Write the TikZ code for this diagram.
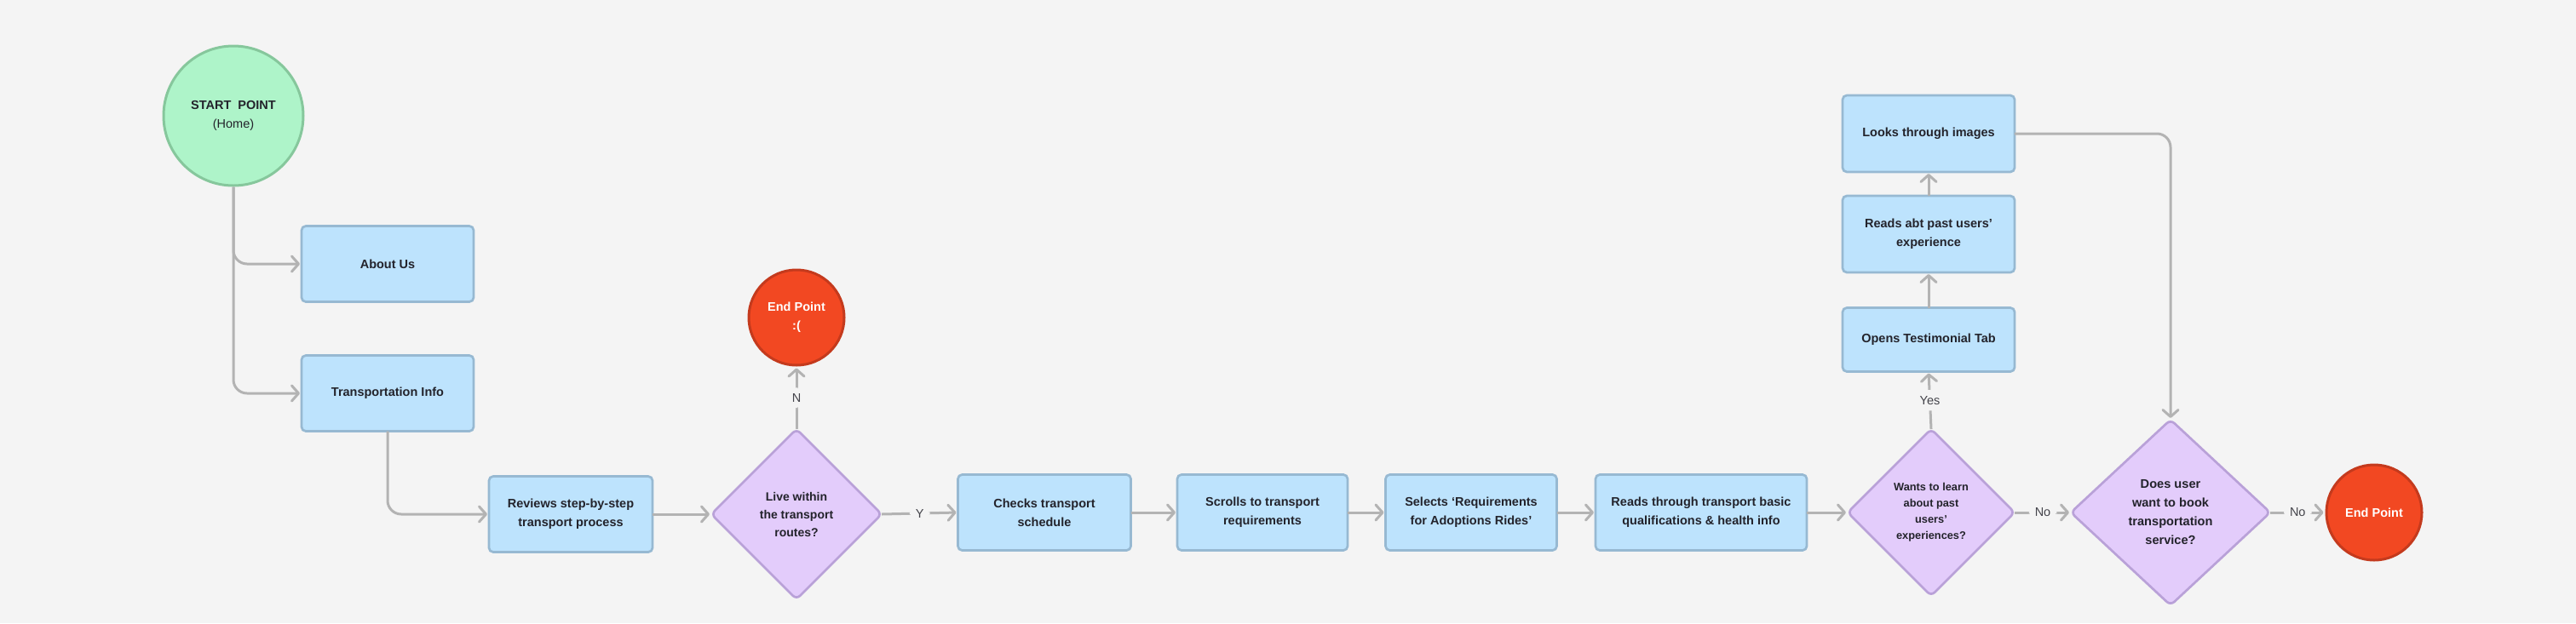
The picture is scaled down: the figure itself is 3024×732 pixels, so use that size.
\documentclass[tikz,border=0pt]{standalone}
\usepackage{fontspec}
\setmainfont{Liberation Sans}
\usetikzlibrary{arrows.meta,shapes.geometric}

\definecolor{bggray}{HTML}{F4F4F4}
\definecolor{boxfill}{HTML}{BDE3FD}
\definecolor{boxdraw}{HTML}{97B9D2}
\definecolor{decfill}{HTML}{E3CCFB}
\definecolor{decdraw}{HTML}{B9A1D8}
\definecolor{startfill}{HTML}{AEF4C9}
\definecolor{startdraw}{HTML}{86C79C}
\definecolor{endfill}{HTML}{F24822}
\definecolor{enddraw}{HTML}{C43A1D}
\definecolor{linegray}{HTML}{B3B3B3}
\definecolor{inkdark}{HTML}{23232B}

\newcommand{\boxfont}{\fontsize{14.5}{22}\selectfont\bfseries}
\newcommand{\lblfont}{\fontsize{14.5}{18}\selectfont}

\begin{document}
\begin{tikzpicture}[x=1pt,y=-1pt,
  stepbox/.style={draw=boxdraw,line width=2.7pt,rounded corners=5pt,fill=boxfill,minimum width=202pt,minimum height=89pt,align=center,font=\boxfont,text=inkdark,inner sep=2pt,outer sep=0pt},
  decision/.style={diamond,draw=decdraw,line width=2.7pt,rounded corners=6pt,fill=decfill,minimum width=200pt,minimum height=200pt,align=center,font=\boxfont,text=inkdark,inner sep=0pt,outer sep=0pt},
  startpt/.style={circle,draw=startdraw,line width=3pt,fill=startfill,minimum size=164pt,align=center,font=\fontsize{14.5}{22}\selectfont,text=inkdark,inner sep=0pt},
  endpt/.style={circle,draw=enddraw,line width=3pt,fill=endfill,minimum size=112pt,align=center,font=\boxfont,text=white,inner sep=0pt},
  flow/.style={draw=linegray,line width=3pt,-{Straight Barb[length=8pt,width=18pt,round]},shorten >=2pt,rounded corners=16pt},
  lbl/.style={fill=bggray,font=\lblfont,text=inkdark!85,inner xsep=7pt,inner ysep=7pt}]
\path[fill=bggray,use as bounding box] (0,0) rectangle (3024,732);

% entry and side pages
\node[startpt] (start) at (274,136) {\textbf{START\ \ POINT}\\(Home)};
\node[stepbox] (about) at (455,310) {About Us};
\node[stepbox] (trans) at (455,462) {Transportation Info};

% main row
\node[stepbox,minimum width=192pt] (reviews) at (670,604) {Reviews step-by-step\\transport process};
\node[decision,font=\fontsize{14}{21}\selectfont\bfseries] (live) at (935,604) {Live within\\the transport\\routes?};
\node[endpt] (endsad) at (935,373) {End Point\\:(};
\node[stepbox,minimum width=203pt] (checks) at (1226,602) {Checks transport\\schedule};
\node[stepbox,minimum width=200pt] (scrolls) at (1482,602) {Scrolls to transport\\requirements};
\node[stepbox,minimum width=201pt] (selects) at (1727,602) {Selects ‘Requirements\\for Adoptions Rides’};
\node[stepbox,minimum width=248pt] (basics) at (1997,602) {Reads through transport basic\\qualifications \& health info};
\node[decision,minimum width=196pt,minimum height=196pt,font=\fontsize{12.8}{19}\selectfont\bfseries] (learn) at (2267,602) {Wants to learn\\about past\\users’\\experiences?};
\node[decision,minimum width=234pt,minimum height=218pt,font=\fontsize{14.6}{22}\selectfont\bfseries] (book) at (2548,602) {Does user\\want to book\\transportation\\service?};
\node[endpt] (endpt) at (2787,602) {End Point};

% testimonial column
\node[stepbox,minimum height=75pt] (opens) at (2264,399) {Opens Testimonial Tab};
\node[stepbox,minimum height=90pt] (pastusers) at (2264,275) {Reads abt past users’\\experience};
\node[stepbox,minimum height=90pt] (images) at (2264,157) {Looks through images};

\draw[flow] (start.south) |- (about.west);
\draw[flow] (start.south) |- (trans.west);
\draw[flow] (trans.south) |- (reviews.west);
\draw[flow] (reviews.east) -- (live.west);
\draw[flow] (live.north) -- node[lbl] {N} (endsad.south);
\draw[flow] (live.east) -- node[lbl] {Y} (checks.west);
\draw[flow] (checks.east) -- (scrolls.west);
\draw[flow] (scrolls.east) -- (selects.west);
\draw[flow] (selects.east) -- (basics.west);
\draw[flow] (basics.east) -- (learn.west);
\draw[flow] (learn.north) -- node[lbl] {Yes} (opens.south);
\draw[flow] (opens.north) -- (pastusers.south);
\draw[flow] (pastusers.north) -- (images.south);
\draw[flow] (images.east) -| (book.north);
\draw[flow] (learn.east) -- node[lbl] {No} (book.west);
\draw[flow] (book.east) -- node[lbl] {No} (endpt.west);
\end{tikzpicture}
\end{document}
